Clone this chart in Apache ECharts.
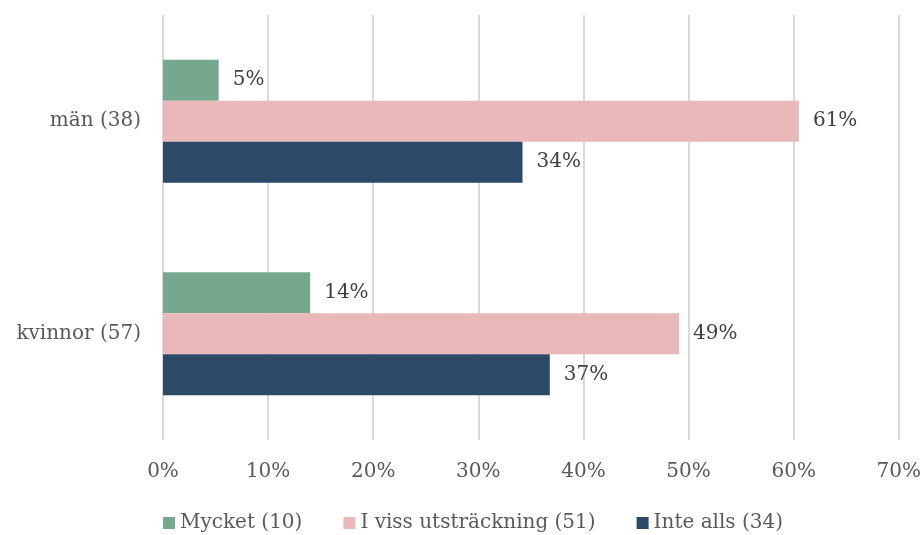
<!DOCTYPE html>
<html><head><meta charset="utf-8">
<script src="https://cdn.jsdelivr.net/npm/echarts@6/dist/echarts.min.js"></script>
<style>html,body{margin:0;padding:0;background:#fff}#c{width:924px;height:535px}</style>
</head><body><div id="c"></div>
<script>
const categories = ['kvinnor (57)', 'män (38)'];
const seriesNames = ['Mycket (10)', 'I viss utsträckning (51)', 'Inte alls (34)'];
const mycket = [14.0, 5.3];
const iViss = [49.1, 60.5];
const inteAlls = [36.8, 34.2];
const tickMax = 70;
const colors = { mycket: '#75a88f', iViss: '#e8b9b8', inteAlls: '#2c4a68' };

const FONT = 'DejaVu Serif';
const FS = 20;
const chart = echarts.init(document.getElementById('c'));
function mk(name, data, color) {
  return {
    name, type: 'bar', data, barWidth: 41, barGap: '0%',
    itemStyle: { color },
    label: { show: true, position: 'right', distance: 14, fontFamily: FONT, fontSize: FS, color: '#404040',
      formatter: p => Math.round(p.value) + '%' }
  };
}
chart.setOption({
  animation: false,
  textStyle: { fontFamily: FONT },
  grid: { left: 163, right: 25, top: 15, bottom: 95, containLabel: false },
  legend: {
    top: 508, left: 158, itemWidth: 12, itemHeight: 12, itemGap: 41, icon: 'rect',
    data: seriesNames,
    textStyle: { fontFamily: FONT, fontSize: FS, color: '#595959' }
  },
  xAxis: {
    type: 'value', min: 0, max: tickMax, interval: 10,
    axisLabel: { formatter: v => v + '%', fontFamily: FONT, fontSize: FS, color: '#595959', margin: 22 },
    splitLine: { lineStyle: { color: '#d9d9d9', width: 2 } },
    axisLine: { show: false }, axisTick: { show: false }
  },
  yAxis: {
    type: 'category', data: categories,
    axisLine: { show: false }, axisTick: { show: false },
    axisLabel: { fontFamily: FONT, fontSize: FS, color: '#595959', margin: 22 }
  },
  series: [
    mk(seriesNames[0], mycket, colors.mycket),
    mk(seriesNames[1], iViss, colors.iViss),
    mk(seriesNames[2], inteAlls, colors.inteAlls)
  ]
});
</script></body></html>
